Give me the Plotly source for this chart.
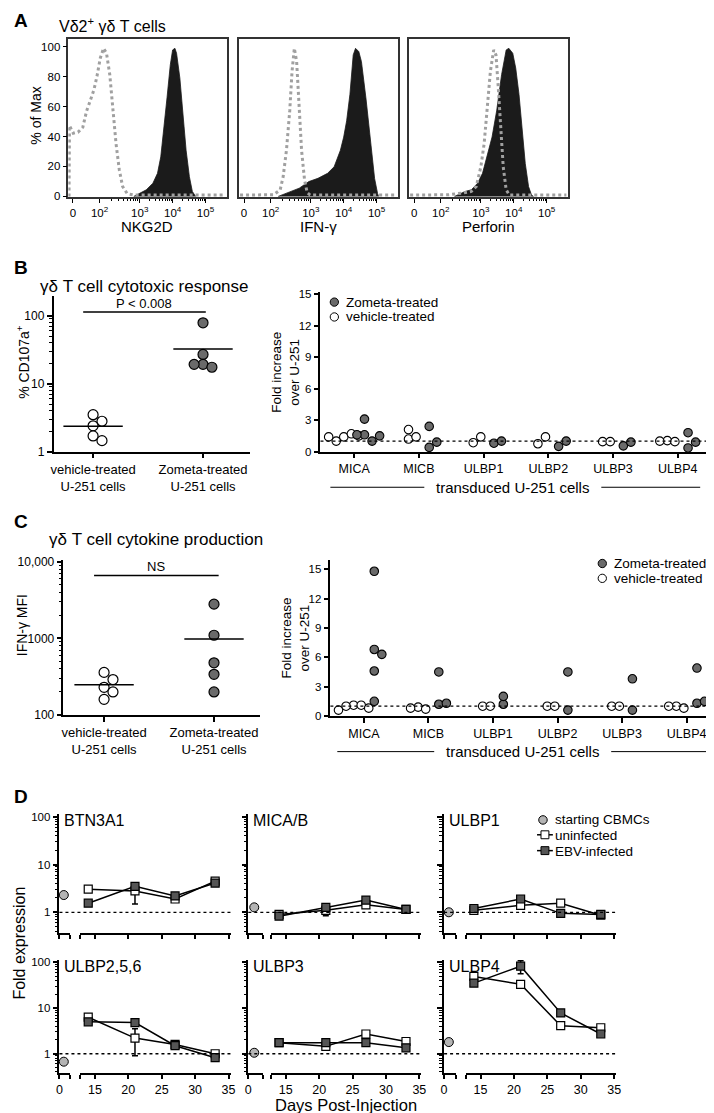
import numpy as np
import plotly.graph_objects as go

W, H = 714, 1113
FONT = "Arial, 'Liberation Sans', Helvetica, sans-serif"
ZOM = "#6a6a6a"      # Zometa / EBV fill
START = "#b4b4b4"    # starting CBMCs
ISO = "#a0a0a0"      # isotype histogram

# ======================= DATA =======================
# ---- Panel A: flow histograms; x in display units (0 -> 0.97, 10^2 -> 1.78, 10^3 -> 3, 10^4 -> 4, 10^5 -> 5)
A_tickvals = [0.97, 1.78, 3, 4, 5]
A_ticktext = ["0", "10<sup>2</sup>", "10<sup>3</sup>", "10<sup>4</sup>", "10<sup>5</sup>"]
A_markers = ["NKG2D", "IFN-γ", "Perforin"]

nkg2d_iso_x = [0.85, 0.864, 0.98, 1.125, 1.27, 1.386, 1.51, 1.61, 1.70, 1.80, 1.90, 1.99, 2.09,
               2.19, 2.28, 2.38, 2.48, 2.62, 2.82, 3.5, 4.5, 5.6]
nkg2d_iso_y = [0, 47.3, 42.2, 42.9, 46.2, 57.1, 64.8, 71.4, 80.2, 92.3, 98.9, 95.6, 81.3,
               57.1, 35.2, 17.6, 6.6, 1.8, 0.9, 0.9, 0.9, 0.9]
nkg2d_stain_x = [2.82, 3.01, 3.20, 3.40, 3.54, 3.64, 3.73, 3.83, 3.93, 4.00, 4.07, 4.12, 4.22,
                 4.31, 4.41, 4.51, 4.60, 4.70]
nkg2d_stain_y = [0, 2.2, 4.4, 8.8, 15.4, 26.4, 44, 65.9, 87.9, 97.8, 98.9, 95.6, 79.1,
                 57.1, 30.8, 13.2, 3.3, 0]

ifng_iso_x = [0.85, 1.5, 1.87, 2.07, 2.16, 2.26, 2.36, 2.43, 2.50, 2.57, 2.65, 2.72, 2.81, 2.89,
              2.98, 4.0, 5.6]
ifng_iso_y = [0.9, 0.9, 1.1, 4.4, 13.2, 30.8, 57.1, 83.5, 98.9, 90.1, 61.5, 30.8, 11, 2.6,
              0.9, 0.9, 0.9]
ifng_stain_x = [2.01, 2.26, 2.65, 2.94, 3.22, 3.51, 3.71, 3.90, 4.00, 4.09, 4.19, 4.29, 4.36,
                4.46, 4.54, 4.68, 4.83, 4.94, 5.03, 5.06]
ifng_stain_y = [0, 2.2, 5.5, 9.9, 12.1, 15.4, 19.8, 30.8, 39.6, 50.5, 68.1, 94.5, 98.9,
                96.7, 90, 65, 35, 12, 2, 0]

perf_iso_x = [0.85, 1.6, 2.03, 2.42, 2.71, 2.86, 3.0, 3.10, 3.19, 3.29, 3.39, 3.46, 3.53, 3.60,
              3.68, 3.77, 3.87, 4.5, 5.6]
perf_iso_y = [0.9, 0.9, 1.1, 2.2, 3.3, 6.6, 19.8, 35.2, 57.1, 83.5, 97.8, 94.5, 72.5, 46.2,
              19.8, 4.4, 0.9, 0.9, 0.9]
perf_stain_x = [2.2, 2.32, 2.52, 2.71, 2.90, 3.05, 3.19, 3.34, 3.48, 3.63, 3.77, 3.85, 3.97,
                4.06, 4.16, 4.26, 4.35, 4.45, 4.54, 4.6]
perf_stain_y = [0, 1.1, 3.3, 4.4, 8.8, 15.4, 26.4, 39.6, 57.1, 81.3, 97.8, 98.9, 95.6,
                85.7, 68.1, 41.8, 22, 6.6, 0.9, 0]

# ---- Panel B
groups = ["vehicle-treated<br>U-251 cells", "Zometa-treated<br>U-251 cells"]
B_cd107_vehicle = [3.5, 2.8, 2.4, 1.7, 1.45]
B_cd107_zometa = [79, 27, 19.3, 17.5, 19.3]
B_pvalue = "P < 0.008"
ligands = ["MICA", "MICB", "ULBP1", "ULBP2", "ULBP3", "ULBP4"]
B_fold_vehicle = [[1.4, 1.7, 1.0, 1.5, 1.4], [2.1, 1.2, 1.4], [0.85, 1.4], [0.75, 1.4],
                  [0.95, 0.95], [1.05, 0.95, 1.0]]
B_fold_zometa = [[1.6, 3.1, 1.0, 1.6, 1.5], [2.4, 0.4, 0.9], [0.8, 1.0], [0.5, 1.0],
                 [0.55, 0.9], [1.8, 0.35, 0.9]]

# ---- Panel C
C_ifng_vehicle = [360, 290, 230, 200, 160]
C_ifng_zometa = [2800, 1100, 480, 340, 200]
C_pvalue = "NS"
C_fold_vehicle = [[1.1, 1.1, 1.0, 0.8, 0.6], [0.9, 0.7, 0.8], [1.0, 1.0], [1.0, 1.0],
                  [1.0, 1.0], [1.0, 0.8, 1.0]]
C_fold_zometa = [[14.8, 6.8, 6.3, 4.6, 1.5], [4.5, 1.2, 1.3], [1.2, 2.0], [4.5, 0.6],
                 [3.8, 0.6], [4.9, 1.3, 1.5]]

# ---- Panel D
D_genes = ["BTN3A1", "MICA/B", "ULBP1", "ULBP2,5,6", "ULBP3", "ULBP4"]
D_days = [14, 21, 27, 33]
D_start_day = 1
D_start = [2.3, 1.27, 1.0, 0.67, 1.05, 1.8]
D_uninf = [[3.05, 2.8, 1.9, 4.5], [0.9, 1.1, 1.43, 1.15], [1.1, 1.4, 1.55, 0.87],
           [6.3, 2.2, 1.6, 1.0], [1.75, 1.45, 2.7, 1.85], [49, 33, 4.1, 3.7]]
D_uninf_err = [[None, 1.3, None, None], [None, 0.25, None, None], [None, None, None, None],
               [None, 1.3, None, None], [None, 0.25, None, None], [None, None, None, None]]
D_ebv = [[1.55, 3.5, 2.2, 4.1], [0.83, 1.27, 1.8, 1.15], [1.2, 1.9, 0.95, 0.9],
         [5.0, 4.8, 1.5, 0.82], [1.75, 1.75, 1.75, 1.35], [35, 82, 7.8, 2.7]]
D_ebv_err = [[None, 0.5, None, None], [None, None, None, None], [None, None, None, None],
             [None, None, None, None], [None, None, None, None], [None, 26, None, None]]
D_xticks = [15, 20, 25, 30, 35]

# ======================= HELPERS =======================
fig = go.Figure()
layout = {}
annotations = []
shapes = []
cnt = {"x": 0, "y": 0}


def P(x):
    return x / W


def Q(y):
    return 1 - y / H


def key_of(ref):
    return ref[0] + "axis" + ref[1:]


BASE = dict(showline=True, linecolor="black", linewidth=1.5, ticks="outside", ticklen=5,
            tickwidth=1.5, tickcolor="black", showgrid=False, zeroline=False,
            tickfont=dict(family=FONT, size=12, color="black"), fixedrange=True)


def add_axis(kind, dom, **kw):
    cnt[kind] += 1
    n = cnt[kind]
    ref = kind if n == 1 else f"{kind}{n}"
    d = dict(BASE)
    if kind == "x":
        d["domain"] = [P(dom[0]), P(dom[1])]
    else:
        d["domain"] = [Q(dom[1]), Q(dom[0])]
    d.update(kw)
    layout[key_of(ref)] = d
    return ref


def link(xref, yref, yanchor_x=None):
    layout[key_of(xref)]["anchor"] = yref
    layout[key_of(yref)]["anchor"] = yanchor_x or xref


def text(t, x, y, size, xanchor="center", yanchor="middle", angle=0, bold=False):
    if bold:
        t = f"<b>{t}</b>"
    annotations.append(dict(text=t, x=P(x), y=Q(y), xref="paper", yref="paper",
                            xanchor=xanchor, yanchor=yanchor, textangle=angle, showarrow=False,
                            borderpad=0,
                            font=dict(family=FONT, size=size, color="black")))


def hline(x0, x1, y, width=1.5):
    shapes.append(dict(type="line", xref="paper", yref="paper", x0=P(x0), x1=P(x1),
                       y0=Q(y), y1=Q(y), line=dict(color="black", width=width)))


def circle(cx, cy, r, fill):
    shapes.append(dict(type="circle", xref="paper", yref="paper", x0=P(cx - r), x1=P(cx + r),
                       y0=Q(cy + r), y1=Q(cy - r), fillcolor=fill,
                       line=dict(color="black", width=1)))


def square(cx, cy, r, fill):
    shapes.append(dict(type="rect", xref="paper", yref="paper", x0=P(cx - r), x1=P(cx + r),
                       y0=Q(cy + r), y1=Q(cy - r), fillcolor=fill,
                       line=dict(color="black", width=1)))


def yfun(top, bottom, rng, log):
    def f(v):
        t = np.log10(v) if log else v
        return top + (rng[1] - t) / (rng[1] - rng[0]) * (bottom - top)
    return f


def swarm(vals, center, yf, xppu, d):
    placed, out = [], []
    for v in vals:
        yp = yf(v)
        off = 0
        for k in [0, 1, -1, 2, -2, 3, -3, 4, -4]:
            off = k * d * 0.9
            if all((off - a) ** 2 + (yp - b) ** 2 >= (0.9 * d) ** 2 for a, b in placed):
                break
        placed.append((off, yp))
        out.append(center + off / xppu)
    return out


LOG_MINOR = dict(ticks="outside", ticklen=3, tickwidth=1, tickcolor="black", dtick="D1")

# ======================= PANEL A =======================
A_minor = []
for start, width in [(1.78, 1.22), (3, 1), (4, 1)]:
    for m in range(2, 10):
        A_minor.append(start + np.log10(m) * width)

A_boxes = [(58, 218), (231, 391), (403, 563)]
A_series = [(nkg2d_iso_x, nkg2d_iso_y, nkg2d_stain_x, nkg2d_stain_y),
            (ifng_iso_x, ifng_iso_y, ifng_stain_x, ifng_stain_y),
            (perf_iso_x, perf_iso_y, perf_stain_x, perf_stain_y)]
for i, (box, ser) in enumerate(zip(A_boxes, A_series)):
    xr = add_axis("x", box, range=[0.83, 5.64], tickmode="array", tickvals=A_tickvals,
                  ticktext=A_ticktext, mirror=True, ticklen=4, tickwidth=1,
                  tickfont=dict(family=FONT, size=11.5, color="black"),
                  minor=dict(tickmode="array", tickvals=A_minor, ticks="outside", ticklen=2.5,
                             tickwidth=1, tickcolor="black"),
                  linecolor="#333333")
    yr = add_axis("y", (27, 187), range=[-0.5, 105.3], mirror=True, tickmode="linear",
                  tick0=0, dtick=20, ticklen=4, tickwidth=1, linecolor="#333333",
                  showticklabels=(i == 0), ticks="outside" if i == 0 else "",
                  tickfont=dict(family=FONT, size=11.5, color="black"))
    link(xr, yr)
    ix, iy, sx, sy = ser
    fig.add_trace(go.Scatter(x=sx, y=sy, xaxis=xr, yaxis=yr, mode="lines", fill="tozeroy",
                             fillcolor="#1b1b1b", line=dict(color="#1b1b1b", width=0.8),
                             hoverinfo="skip"))
    fig.add_trace(go.Scatter(x=ix, y=iy, xaxis=xr, yaxis=yr, mode="lines",
                             line=dict(color=ISO, width=3, dash="dot"), hoverinfo="skip"))
    text(A_markers[i], (box[0] + box[1]) / 2, 217, 15)

text("A", 2, 9, 19, xanchor="left", bold=True)
text("Vδ2<sup>+</sup> γδ T cells", 48, 13, 16, xanchor="left")
text("% of Max", 25, 105, 14, angle=-90)

# ======================= PANEL B / C left (dot plots) =======================


def dot_panel(xdom, ydom, yrng, xrng, vals_v, vals_z, bar_y, bar_x, bar_text, ylab, ylab_x, msize):
    xr = add_axis("x", xdom, range=xrng, tickmode="array", tickvals=[0, 1], ticktext=groups,
                  tickfont=dict(family=FONT, size=13, color="black"))
    yr = add_axis("y", ydom, type="log", range=yrng, tickmode="linear", tick0=0, dtick=1,
                  exponentformat="none", minor=LOG_MINOR, ticklen=5,
                  tickfont=dict(family=FONT, size=12, color="black"))
    link(xr, yr)
    yf = yfun(ydom[0], ydom[1], yrng, True)
    xppu = (xdom[1] - xdom[0]) / (xrng[1] - xrng[0])
    for c, vals, fill in [(0, vals_v, "white"), (1, vals_z, ZOM)]:
        xs = swarm(vals, c, yf, xppu, msize)
        fig.add_trace(go.Scatter(x=xs, y=vals, xaxis=xr, yaxis=yr, mode="markers",
                                 cliponaxis=False,
                                 marker=dict(size=msize, color=fill,
                                             line=dict(color="black", width=1.2)),
                                 hoverinfo="skip"))
        m = float(np.mean(vals))
        fig.add_trace(go.Scatter(x=[c - 0.27, c + 0.27], y=[m, m], xaxis=xr, yaxis=yr,
                                 mode="lines", line=dict(color="black", width=1.5),
                                 hoverinfo="skip"))
    hline(bar_x[0], bar_x[1], bar_y, 1.5)
    text(bar_text, (bar_x[0] + bar_x[1]) / 2, bar_y - 9, 13)
    text(ylab, ylab_x, (ydom[0] + ydom[1]) / 2 - 12, 14, angle=-90)


dot_panel((43, 242), (287, 444), [0, 2.29], [-0.36, 1.43], B_cd107_vehicle, B_cd107_zometa,
          303, (73, 197), B_pvalue, "% CD107a<sup>+</sup>", 12, 10)
dot_panel((53, 252), (553, 710), [2, 4.03], [-0.37, 1.42], C_ifng_vehicle, C_ifng_zometa,
          569, (84, 210), C_pvalue, "IFN-γ MFI", 12, 10)

text("B", 2, 258, 19, xanchor="left", bold=True)
text("γδ T cell cytotoxic response", 28, 277, 17, xanchor="left")
text("C", 2, 515, 19, xanchor="left", bold=True)
text("γδ T cell cytokine production", 37, 533, 17, xanchor="left")

# ======================= PANEL B / C right (fold increase) =======================


def fold_panel(xdom, ydom, yrng, xrng, fv, fz, ytitle_x, leg_xy, trans_y, trans_lines):
    xr = add_axis("x", xdom, range=xrng, tickmode="array", tickvals=list(range(len(ligands))),
                  ticktext=ligands, tickfont=dict(family=FONT, size=12.5, color="black"))
    yr = add_axis("y", ydom, range=yrng, tickmode="linear", tick0=0, dtick=3,
                  tickfont=dict(family=FONT, size=11.5, color="black"))
    link(xr, yr)
    shapes.append(dict(type="line", xref=f"{xr} domain", yref=yr, x0=0, x1=1, y0=1, y1=1,
                       line=dict(color="black", width=1.3, dash="dot")))
    yf = yfun(ydom[0], ydom[1], yrng, False)
    xppu = (xdom[1] - xdom[0]) / (xrng[1] - xrng[0])
    for i in range(len(ligands)):
        for off, vals, fill in [(-0.16, fv[i], "white"), (0.16, fz[i], ZOM)]:
            xs = swarm(vals, i + off, yf, xppu, 8.5)
            fig.add_trace(go.Scatter(x=xs, y=vals, xaxis=xr, yaxis=yr, mode="markers",
                                     cliponaxis=False,
                                     marker=dict(size=8.5, color=fill,
                                                 line=dict(color="black", width=1.1)),
                                     hoverinfo="skip"))
    text("Fold increase<br>over U-251", ytitle_x, (ydom[0] + ydom[1]) / 2, 13.5, angle=-90)
    lx, ly = leg_xy
    circle(lx, ly, 4.2, ZOM)
    circle(lx, ly + 15, 4.2, "white")
    text("Zometa-treated", lx + 11, ly, 13.5, xanchor="left")
    text("vehicle-treated", lx + 11, ly + 15, 13.5, xanchor="left")
    (a0, a1), (b0, b1) = trans_lines
    hline(a0, a1, trans_y, 1)
    hline(b0, b1, trans_y, 1)
    text("transduced U-251 cells", (a1 + b0) / 2, trans_y, 15)


fold_panel((313, 705), (283, 444), [0, 15.19], [-0.52, 5.47], B_fold_vehicle, B_fold_zometa,
           278, (327, 293), 480, ((323, 418), (597, 697)))
fold_panel((323, 712), (553, 711), [0, 16], [-0.52, 5.44], C_fold_vehicle, C_fold_zometa,
           288, (598, 557), 747, ((330, 428), (607, 705)))

# ======================= PANEL D =======================
D_cols = [(49, 60, 70, 222), (240, 255, 263, 415), (438, 450, 460, 612)]
D_rows = [(810, 930), (957, 1072)]
D_yrng = [-0.43, 2.06]
seg2_rng = [12.8, 35.3]
for k, gene in enumerate(D_genes):
    r, c = divmod(k, 3)
    c0, c1, c2, c3 = D_cols[c]
    ytop, ybot = D_rows[r]
    showx = (r == 1)
    xf = dict(size=12.5, family=FONT, color="black")
    x1r = add_axis("x", (c0, c1), range=[0, 2.5], tickmode="array", tickvals=[0, 2.5],
                   ticktext=["0", ""], showticklabels=showx, tickfont=xf, ticklen=4)
    x2r = add_axis("x", (c2, c3), range=seg2_rng, tickmode="array",
                   tickvals=[seg2_rng[0]] + D_xticks,
                   ticktext=[""] + [str(v) for v in D_xticks], showticklabels=showx,
                   tickfont=xf, ticklen=4)
    yr = add_axis("y", (ytop, ybot), type="log", range=D_yrng, tickmode="linear", tick0=0,
                  dtick=1, exponentformat="none", minor=LOG_MINOR, showticklabels=(c == 0),
                  tickfont=dict(family=FONT, size=11.5, color="black"))
    link(x1r, yr)
    layout[key_of(x2r)]["anchor"] = yr
    # dotted reference line at fold = 1
    frac = (0 - D_yrng[0]) / (D_yrng[1] - D_yrng[0])
    shapes.append(dict(type="line", xref="paper", yref=f"{yr} domain", x0=P(c0), x1=P(c3),
                       y0=frac, y1=frac, line=dict(color="black", width=1.3, dash="dot")))
    fig.add_trace(go.Scatter(x=[D_start_day], y=[D_start[k]], xaxis=x1r, yaxis=yr,
                             mode="markers", cliponaxis=False,
                             marker=dict(size=9, color=START, line=dict(color="black", width=1)),
                             hoverinfo="skip"))
    for vals, err, fill in [(D_uninf[k], D_uninf_err[k], "white"),
                            (D_ebv[k], D_ebv_err[k], "#555555")]:
        fig.add_trace(go.Scatter(x=D_days, y=vals, xaxis=x2r, yaxis=yr, mode="lines+markers",
                                 cliponaxis=False,
                                 line=dict(color="black", width=1.5),
                                 marker=dict(symbol="square", size=8, color=fill,
                                             line=dict(color="black", width=1.2)),
                                 error_y=dict(type="data", array=err, visible=True,
                                              color="black", thickness=1.5, width=3),
                                 hoverinfo="skip"))
    text(gene, c0 + 4, ytop + 7, 16, xanchor="left")

text("D", 2, 792, 19, xanchor="left", bold=True)
text("Fold expression", 9, 940, 16, angle=-90)
text("Days Post-Injection", 339, 1104, 16.5)
# legend D
circle(538, 816, 4.3, START)
hline(532, 548, 831, 1.5)
square(540, 831, 4, "white")
hline(532, 548, 847, 1.5)
square(540, 847, 4, "#555555")
text("starting CBMCs", 549, 816, 13.5, xanchor="left")
text("uninfected", 549, 831.5, 13.5, xanchor="left")
text("EBV-infected", 549, 847.5, 13.5, xanchor="left")

fig.update_layout(**layout)
fig.update_layout(width=W, height=H, margin=dict(l=0, r=0, t=0, b=0),
                  paper_bgcolor="white", plot_bgcolor="white", showlegend=False,
                  annotations=annotations, shapes=shapes,
                  font=dict(family=FONT, color="black"))
fig.write_html("out.html")
